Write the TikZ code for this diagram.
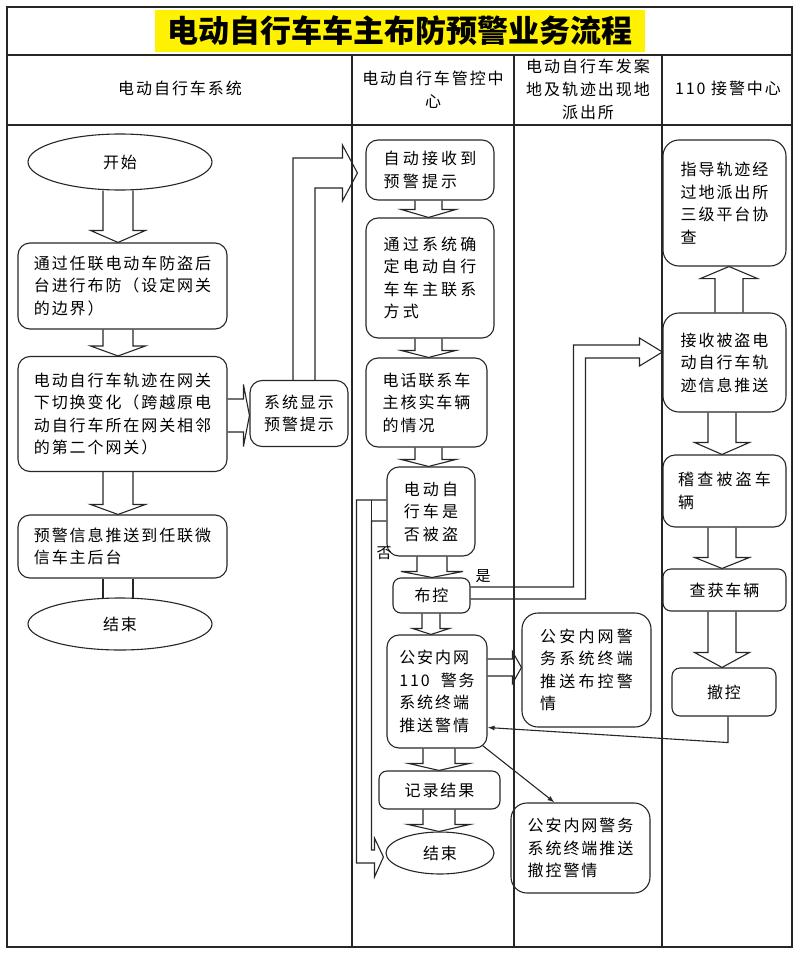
\documentclass[tikz,border=0pt]{standalone}
\usepackage{fontspec}
\setmainfont{Noto Sans CJK SC}
\newfontfamily\bodyfont{Noto Sans CJK SC}[LetterSpace=12]
\newfontfamily\widefont{Noto Sans CJK SC}[LetterSpace=20]
\newfontfamily\titlefont{Noto Sans CJK SC}
\usetikzlibrary{shapes.geometric,calc,arrows.meta}

% downward block arrow: from, to, dx, half shaft, half head, head length
\newcommand\blkdown[6]{%
 \draw[blkline] ($(#1.south)+(#3-#4,0)$) -- ($(#1.south |- #2.north)+(#3-#4,-#6)$) -- ($(#1.south |- #2.north)+(#3-#5,-#6)$) -- ($(#1.south |- #2.north)+(#3,0)$) -- ($(#1.south |- #2.north)+(#3+#5,-#6)$) -- ($(#1.south |- #2.north)+(#3+#4,-#6)$) -- ($(#1.south)+(#3+#4,0)$);}
% upward block arrow
\newcommand\blkup[6]{%
 \draw[blkline] ($(#1.north)+(#3-#4,0)$) -- ($(#1.north |- #2.south)+(#3-#4,#6)$) -- ($(#1.north |- #2.south)+(#3-#5,#6)$) -- ($(#1.north |- #2.south)+(#3,0)$) -- ($(#1.north |- #2.south)+(#3+#5,#6)$) -- ($(#1.north |- #2.south)+(#3+#4,#6)$) -- ($(#1.north)+(#3+#4,0)$);}
% rightward block arrow: from, to, dy, half shaft, half head, head length
\newcommand\blkright[6]{%
 \draw[blkline] ($(#1.east)+(0,#3-#4)$) -- ($(#1.east -| #2.west)+(-#6,#3-#4)$) -- ($(#1.east -| #2.west)+(-#6,#3-#5)$) -- ($(#1.east -| #2.west)+(0,#3)$) -- ($(#1.east -| #2.west)+(-#6,#3+#5)$) -- ($(#1.east -| #2.west)+(-#6,#3+#4)$) -- ($(#1.east)+(0,#3+#4)$);}

\begin{document}
\begin{tikzpicture}[x=1pt,y=-1pt,
  ln/.style={line width=1.1pt, draw=black!85},
  box/.style={ln, rounded corners=12pt, align=left, inner sep=0pt,
    font=\bodyfont\fontsize{16}{22.5}\selectfont},
  wbox/.style={box, font=\widefont\fontsize{16}{22.5}\selectfont},
  oval/.style={ln, ellipse, inner sep=0pt, font=\bodyfont\fontsize{16}{22.5}\selectfont},
  hdr/.style={align=center, inner sep=0pt, font=\bodyfont\fontsize{16}{23}\selectfont},
  lab/.style={inner sep=0pt, font=\bodyfont\fontsize{15}{15}\selectfont},
  blkline/.style={line width=1.1pt, draw=black!85, line join=miter},
  thinarr/.style={line width=1.1pt, draw=black!85, -{Latex[length=7pt,width=5pt]}}]
\useasboundingbox (0,0) rectangle (800,963);

% frame and lanes
\draw[ln] (7,7) rectangle (792,947);
\draw[ln] (7,55) -- (792,55);
\draw[ln] (7,125) -- (792,125);
\draw[ln] (352,55) -- (352,947);
\draw[ln] (514,55) -- (514,947);
\draw[ln] (662,55) -- (662,947);

% title and headers
\node[fill=yellow, minimum width=490pt, minimum height=42pt, inner sep=0pt,
  font=\titlefont\bfseries\fontsize{31}{31}\selectfont] (title) at (400,31) {电动自行车车主布防预警业务流程};
\node[hdr] (h1) at (180,88) {电动自行车系统};
\node[hdr] (h2) at (433,90) {电动自行车管控中\\心};
\node[hdr] (h3) at (588,89) {电动自行车发案\\地及轨迹出现地\\派出所};
\node[hdr] (h4) at (728,88) {110 接警中心};

% column 1
\node[oval, minimum width=184pt, minimum height=56pt] (start) at (120,162) {开始};
\node[box, minimum width=209pt, minimum height=86pt] (b1) at (122.5,286) {通过任联电动车防盗后\\台进行布防（设定网关\\的边界）};
\node[box, minimum width=209pt, minimum height=115pt] (b2) at (122.5,414) {电动自行车轨迹在网关\\下切换变化（跨越原电\\动自行车所在网关相邻\\的第二个网关）};
\node[box, minimum width=209pt, minimum height=63pt] (b3) at (122.5,546.5) {预警信息推送到任联微\\信车主后台};
\node[oval, minimum width=184pt, minimum height=52pt] (end1) at (120,624) {结束};
\node[box, align=center, minimum width=98pt, minimum height=66pt] (sys) at (299,413.5) {系统显示\\预警提示};

% column 2
\node[wbox, minimum width=128pt, minimum height=60pt] (c1) at (430,170) {自动接收到\\预警提示};
\node[wbox, minimum width=128pt, minimum height=120pt] (c2) at (430,278) {通过系统确\\定电动自行\\车车主联系\\方式};
\node[box, minimum width=121pt, minimum height=89pt] (c3) at (426.5,402.5) {电话联系车\\主核实车辆\\的情况};
\node[wbox, minimum width=88pt, minimum height=89pt] (c4) at (431,511.5) {电动自\\行车是\\否被盗};
\node[box, rounded corners=8pt, align=center, minimum width=77pt, minimum height=35pt] (c5) at (431.5,595.5) {布控};
\node[box, minimum width=100pt, minimum height=113pt] (c6) at (437,691.5) {公安内网\\110\ \ 警务\\系统终端\\推送警情};
\node[box, rounded corners=8pt, align=center, minimum width=121pt, minimum height=38pt] (c7) at (439.5,790) {记录结果};
\node[oval, minimum width=108pt, minimum height=42pt] (end2) at (440,853) {结束};

% column 3
\node[wbox, rounded corners=16pt, minimum width=129pt, minimum height=114pt] (d1) at (586.5,670) {公安内网警\\务系统终端\\推送布控警\\情};
\node[box, rounded corners=16pt, minimum width=139pt, minimum height=90pt] (d2) at (580.5,848) {公安内网警务\\系统终端推送\\撤控警情};

% column 4
\node[box, rounded corners=16pt, minimum width=123pt, minimum height=126pt] (e1) at (724.5,203) {指导轨迹经\\过地派出所\\三级平台协\\查};
\node[box, rounded corners=16pt, minimum width=123pt, minimum height=99pt] (e2) at (724.5,362.5) {接收被盗电\\动自行车轨\\迹信息推送};
\node[wbox, minimum width=123pt, minimum height=72pt] (e3) at (724.5,491) {稽查被盗车\\辆};
\node[box, rounded corners=8pt, align=center, minimum width=123pt, minimum height=42pt] (e4) at (724.5,590) {查获车辆};
\node[box, rounded corners=8pt, align=center, minimum width=104pt, minimum height=48pt] (e5) at (724,692) {撤控};

% block arrows, column 1
\blkdown{start}{b1}{-2}{15}{27.5}{12}
\blkdown{b1}{b2}{-4.5}{15}{27.5}{10}
\blkdown{b2}{b3}{-4.5}{15}{27.5}{10}
\draw[blkline] ($(b3.south)+(-19.5,0)$) -- ($(b3.south |- end1.north)+(-19.5,0.5)$);
\draw[blkline] ($(b3.south)+(10.5,0)$) -- ($(b3.south |- end1.north)+(10.5,0.5)$);
\blkright{b2}{sys}{1.5}{16.5}{31}{6}

% system display -> auto receive
\draw[blkline] ($(sys.north)+(-6,0)$) -- ($(sys.north |- c1.west)+(-6,-12)$)
  -- ($(c1.west)+(-23,-12)$) -- ($(c1.west)+(-23,-25)$) -- ($(c1.west)+(-8,3)$)
  -- ($(c1.west)+(-23,31)$) -- ($(c1.west)+(-23,18)$)
  -- ($(sys.north |- c1.west)+(16,18)$) -- ($(sys.north)+(16,0)$);

% column 2
\blkdown{c1}{c2}{-1.5}{13.5}{27.5}{8}
\blkdown{c2}{c3}{-1.5}{13.5}{27.5}{7}
\blkdown{c3}{c4}{2}{13.5}{27.5}{7}
\blkdown{c4}{c5}{1}{15}{31}{6}
\blkdown{c5}{c6}{-0.5}{9}{18.5}{6}
\blkdown{c6}{c7}{2}{16}{30.5}{7}
\blkdown{c7}{end2}{-0.5}{16}{31}{7}
\blkright{c6}{d1}{-24}{8.5}{16}{9}

% yes branch: 布控 -> 接收被盗
\draw[blkline] ($(c5.east)+(0,-8.5)$) -- ($(c5.east -| e2.west)+(-89,-8.5)$)
  -- ($(e2.west)+(-89,-17.5)$) -- ($(e2.west)+(-23,-17.5)$) -- ($(e2.west)+(-23,-24.5)$)
  -- ($(e2.west)+(0,-10.5)$) -- ($(e2.west)+(-23,3.5)$) -- ($(e2.west)+(-23,-4.5)$)
  -- ($(e2.west)+(-77,-4.5)$) -- ($(c5.east -| e2.west)+(-77,3.5)$) -- ($(c5.east)+(0,3.5)$);
\node[lab] (yes) at (483,576) {是};

% no branch: 是否被盗 -> 结束
\draw[blkline] ($(c4.west)+(0,-11.5)$) -- ($(c4.west)+(-30,-11.5)$)
  -- ($(c4.west |- end2.west)+(-30,10)$) -- ($(end2.west)+(-11,10)$) -- ($(end2.west)+(-11,24)$)
  -- ($(end2.west)+(-2,4)$) -- ($(end2.west)+(-11,-15)$) -- ($(end2.west)+(-11,-3)$)
  -- ($(c4.west |- end2.west)+(-15,-3)$) -- ($(c4.west)+(-15,9.5)$) -- ($(c4.west)+(0,9.5)$);
\draw[blkline] ($(c4.west)+(-15,-11.5)$) -- ($(c4.west)+(-15,9.5)$);
\node[lab] (no) at (384,553) {否};

% column 4
\blkup{e2}{e1}{4.5}{14}{28.5}{12}
\blkdown{e2}{e3}{-2.5}{14}{27.5}{12}
\blkdown{e3}{e4}{-2.5}{14}{27.5}{11}
\blkdown{e4}{e5}{-2.5}{14}{27.5}{15}

% thin arrows
\draw[thinarr] ($(e5.south)+(4,0)$) -- ($(e5.south)+(4,26)$) -- ($(c6.east)+(0,36)$);
\draw[thinarr] ($(c6.south east)+(-5,-3)$) -- ($(d2.north)+(-26,0)$);
\end{tikzpicture}
\end{document}
